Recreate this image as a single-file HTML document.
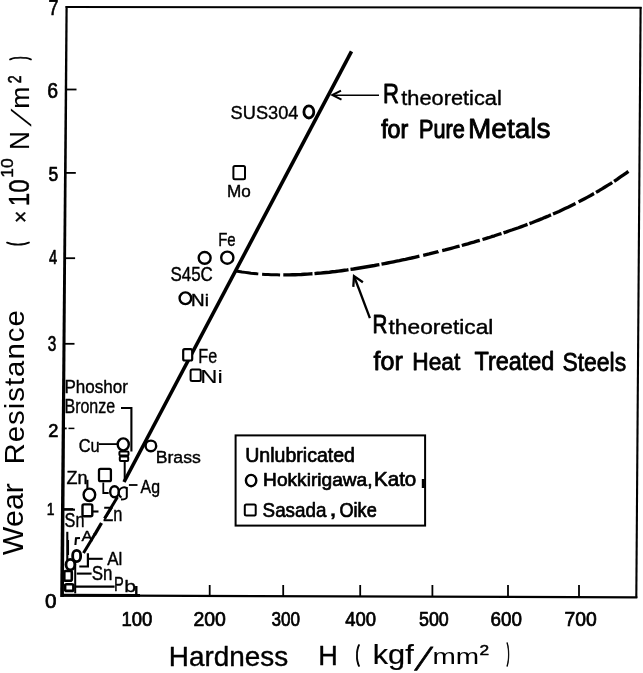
<!DOCTYPE html>
<html><head><meta charset="utf-8"><style>
html,body{margin:0;padding:0;background:#fff;}
svg{display:block;}
text{font-family:"Liberation Sans",sans-serif;fill:#000;stroke:#000;stroke-linejoin:round;}
</style></head><body>
<svg width="643" height="673" viewBox="0 0 643 673">
<rect width="643" height="673" fill="#fff"/>
<polygon points="65.5,6 67.7,6 63.9,597 60.2,597" fill="#000"/>
<polyline points="65.6,7.0 641.6,7.7" fill="none" stroke="#000" stroke-width="2"/>
<polyline points="640.6,7.0 636.3,598.0" fill="none" stroke="#000" stroke-width="2.1"/>
<polyline points="61.0,595.4 637.3,597.4" fill="none" stroke="#000" stroke-width="2.2"/>
<polyline points="66.0,89.5 76.5,89.5" fill="none" stroke="#000" stroke-width="1.8"/>
<polyline points="65.3,172.9 75.8,172.9" fill="none" stroke="#000" stroke-width="1.8"/>
<polyline points="64.6,258.2 75.1,258.2" fill="none" stroke="#000" stroke-width="1.8"/>
<polyline points="64.0,343.8 74.5,343.8" fill="none" stroke="#000" stroke-width="1.8"/>
<polyline points="62.7,509.0 73.2,509.0" fill="none" stroke="#000" stroke-width="1.8"/>
<polyline points="63.0,428.4 66.7,428.4" fill="none" stroke="#000" stroke-width="1.8"/>
<polyline points="68.5,428.4 74.4,428.4" fill="none" stroke="#000" stroke-width="1.5"/>
<polyline points="209.7,596.0 209.7,585.0" fill="none" stroke="#000" stroke-width="1.8"/>
<polyline points="283.2,596.0 283.2,585.0" fill="none" stroke="#000" stroke-width="1.8"/>
<polyline points="360.2,596.0 360.2,585.0" fill="none" stroke="#000" stroke-width="1.8"/>
<polyline points="432.4,596.0 432.4,585.0" fill="none" stroke="#000" stroke-width="1.8"/>
<polyline points="508.0,596.0 508.0,585.0" fill="none" stroke="#000" stroke-width="1.8"/>
<polyline points="579.0,596.0 579.0,585.0" fill="none" stroke="#000" stroke-width="1.8"/>
<text transform="translate(48.55,15.25) scale(0.8046,1)" font-size="22.40" stroke-width="0.7">7</text>
<text transform="translate(47.18,97.92) scale(0.8605,1)" font-size="22.61" stroke-width="0.7">6</text>
<text transform="translate(48.55,181.24) scale(0.8405,1)" font-size="20.79" stroke-width="0.7">5</text>
<text transform="translate(48.92,263.65) scale(0.7353,1)" font-size="19.93" stroke-width="0.7">4</text>
<text transform="translate(47.67,350.54) scale(0.7249,1)" font-size="21.20" stroke-width="0.7">3</text>
<text transform="translate(48.34,437.35) scale(1.0019,1)" font-size="18.21" stroke-width="0.7">2</text>
<text transform="translate(46.71,514.75) scale(0.8015,1)" font-size="17.31" stroke-width="0.7">1</text>
<text transform="translate(44.92,608.15) scale(1.0629,1)" font-size="19.51" stroke-width="0.7">0</text>
<text transform="translate(121.38,626.11) scale(0.8780,1)" font-size="21.13" stroke-width="0.75">100</text>
<text transform="translate(193.40,626.11) scale(0.9210,1)" font-size="21.13" stroke-width="0.75">200</text>
<text transform="translate(271.43,626.11) scale(0.8098,1)" font-size="21.13" stroke-width="0.75">300</text>
<text transform="translate(345.16,626.11) scale(0.8758,1)" font-size="21.13" stroke-width="0.75">400</text>
<text transform="translate(418.96,626.11) scale(0.8468,1)" font-size="21.13" stroke-width="0.75">500</text>
<text transform="translate(490.53,626.11) scale(0.8911,1)" font-size="21.13" stroke-width="0.75">600</text>
<text transform="translate(564.61,626.11) scale(0.9150,1)" font-size="21.13" stroke-width="0.75">700</text>
<text transform="translate(168.80,665.52) scale(0.9888,1)" font-size="28.23" stroke-width="0.4">Hardness</text>
<text transform="translate(318.17,665.30) scale(0.9698,1)" font-size="27.93" stroke-width="0.4">H</text>
<text transform="translate(355.69,660.51) scale(0.5226,1)" font-size="21.66" stroke-width="1.6">(</text>
<text transform="translate(372.72,664.10) scale(1.1440,1)" font-size="26.90" stroke-width="0.2">kgf</text>
<text transform="translate(414.48,669.93) skewX(-22.86)" font-size="31.84" stroke-width="0.9">/</text>
<text transform="translate(432.51,664.10) scale(1.2435,1)" font-size="22.51" stroke-width="0">mm</text>
<text transform="translate(479.48,655.45) scale(1.1318,1)" font-size="15.34" stroke-width="0.5">2</text>
<text transform="translate(506.64,660.87) scale(0.3425,1)" font-size="24.24" stroke-width="1.6">)</text>
<text transform="translate(22.91,555.15) rotate(-90) scale(1.0400,1)" font-size="29.10" stroke-width="0" letter-spacing="0.12">Wear</text>
<text transform="translate(23.72,464.43) rotate(-90) scale(1.0400,1)" font-size="28.30" stroke-width="0" letter-spacing="0.93">Resistance</text>
<text transform="translate(23.68,245.81) rotate(-90) scale(0.4777,1)" font-size="23.70" stroke-width="1.6">(</text>
<text transform="translate(28.42,222.98) rotate(-90) scale(0.9216,1)" font-size="22.92" stroke-width="0.4">×</text>
<text transform="translate(28.91,206.21) rotate(-90) scale(0.8218,1)" font-size="29.40" stroke-width="0.4">10</text>
<text transform="translate(13.03,177.81) rotate(-90) scale(1.0199,1)" font-size="17.10" stroke-width="0.4">10</text>
<text transform="translate(29.35,150.01) rotate(-90) scale(0.9628,1)" font-size="27.20" stroke-width="0.1">N</text>
<text transform="translate(30.72,126.60) rotate(-90) skewX(-26.88)" font-size="27.76" stroke-width="0">/</text>
<text transform="translate(29.35,108.74) rotate(-90) scale(1.0349,1)" font-size="25.67" stroke-width="0.1">m</text>
<text transform="translate(20.70,83.20) rotate(-90) scale(0.7786,1)" font-size="18.06" stroke-width="0.6">2</text>
<text transform="translate(26.28,60.08) rotate(-90) scale(0.4648,1)" font-size="22.73" stroke-width="1.6">)</text>
<polyline points="351.5,51.4 124.0,482.0" fill="none" stroke="#000" stroke-width="3.6"/>
<polyline points="117.5,497.0 104.5,518.5" fill="none" stroke="#000" stroke-width="3.0"/>
<polyline points="101.5,523.0 94.5,535.0" fill="none" stroke="#000" stroke-width="3.4"/>
<polyline points="95.0,534.0 83.5,553.0" fill="none" stroke="#000" stroke-width="3.0"/>
<polyline points="379.0,95.3 333.0,95.3" fill="none" stroke="#000" stroke-width="1.6"/>
<polyline points="341.0,90.6 332.3,95.0 341.5,99.6" fill="none" stroke="#000" stroke-width="2"/>
<polyline points="236.0,271.0 239.0,271.5 242.0,272.0 245.0,272.4 248.0,272.8 251.0,273.2 254.0,273.5 257.0,273.8 258.3,273.9" fill="none" stroke="#000" stroke-width="2.9" stroke-linecap="butt" stroke-linejoin="round"/>
<polyline points="262.1,274.2 265.1,274.4 268.1,274.5 271.1,274.7 274.1,274.8 277.1,274.8 280.1,274.9" fill="none" stroke="#000" stroke-width="3.0" stroke-linecap="butt" stroke-linejoin="round"/>
<polyline points="283.3,274.9 286.3,274.9 289.3,274.9 292.3,274.8 295.3,274.7 298.3,274.6 301.3,274.5 304.3,274.3 307.3,274.1 310.3,273.9 312.5,273.8" fill="none" stroke="#000" stroke-width="3.4" stroke-linecap="butt" stroke-linejoin="round"/>
<polyline points="314.5,273.6 317.5,273.3 320.5,273.1 323.5,272.8 326.5,272.5 329.5,272.2 332.5,271.8 335.5,271.5 338.5,271.1 341.5,270.7 344.5,270.3 347.5,269.9 348.5,269.7" fill="none" stroke="#000" stroke-width="3.4" stroke-linecap="butt" stroke-linejoin="round"/>
<polyline points="350.5,269.4 353.5,269.0 356.5,268.5 359.5,268.0 362.5,267.5 365.5,267.0 368.5,266.5 371.5,266.0 374.5,265.5 377.5,264.9 379.4,264.6" fill="none" stroke="#000" stroke-width="3.4" stroke-linecap="butt" stroke-linejoin="round"/>
<polyline points="381.5,264.2 384.5,263.6 387.5,263.0 390.5,262.4 393.5,261.8 396.5,261.2 399.5,260.6 402.5,259.9 405.5,259.3 408.5,258.6 411.5,258.0 414.5,257.3 417.5,256.6 419.4,256.2" fill="none" stroke="#000" stroke-width="3.4" stroke-linecap="butt" stroke-linejoin="round"/>
<polyline points="423.2,255.3 426.2,254.6 429.2,253.9 432.2,253.1 435.2,252.4 438.2,251.7 438.4,251.6" fill="none" stroke="#000" stroke-width="3.3" stroke-linecap="butt" stroke-linejoin="round"/>
<polyline points="442.2,250.6 445.2,249.9 448.2,249.1 451.2,248.3 454.2,247.5 457.2,246.7 459.6,246.1" fill="none" stroke="#000" stroke-width="3.3" stroke-linecap="butt" stroke-linejoin="round"/>
<polyline points="461.8,245.5 464.8,244.6 467.8,243.8 470.8,242.9 473.8,242.1 476.8,241.2 479.8,240.3" fill="none" stroke="#000" stroke-width="3.3" stroke-linecap="butt" stroke-linejoin="round"/>
<polyline points="482.5,239.5 485.5,238.6 488.5,237.7 491.5,236.7 494.5,235.8 497.5,234.8 500.5,233.8 501.5,233.5" fill="none" stroke="#000" stroke-width="3.3" stroke-linecap="butt" stroke-linejoin="round"/>
<polyline points="503.5,232.9 506.5,231.9 509.5,230.8 512.5,229.8 515.5,228.7 518.5,227.7 521.5,226.6 524.5,225.5 527.5,224.4" fill="none" stroke="#000" stroke-width="3.3" stroke-linecap="butt" stroke-linejoin="round"/>
<polyline points="529.5,223.6 532.5,222.5 535.5,221.3 538.5,220.1 541.5,218.9 544.5,217.6 547.5,216.4 550.5,215.1 551.0,214.9" fill="none" stroke="#000" stroke-width="3.3" stroke-linecap="butt" stroke-linejoin="round"/>
<polyline points="553.0,214.0 556.0,212.7 559.0,211.4 562.0,210.0 565.0,208.6 568.0,207.2 571.0,205.7 574.0,204.2 575.5,203.5" fill="none" stroke="#000" stroke-width="3.3" stroke-linecap="butt" stroke-linejoin="round"/>
<polyline points="578.6,201.9 581.6,200.3 584.6,198.7 587.6,197.1 590.6,195.5 593.6,193.8 594.0,193.6" fill="none" stroke="#000" stroke-width="3.3" stroke-linecap="butt" stroke-linejoin="round"/>
<polyline points="596.0,192.4 599.0,190.7 602.0,188.9 605.0,187.0 608.0,185.2 611.0,183.3 612.2,182.5" fill="none" stroke="#000" stroke-width="3.3" stroke-linecap="butt" stroke-linejoin="round"/>
<polyline points="614.1,181.3 617.1,179.3 620.1,177.2 623.1,175.2 626.1,173.1 628.4,171.4" fill="none" stroke="#000" stroke-width="3.4" stroke-linecap="butt" stroke-linejoin="round"/>
<polyline points="369.9,318.2 354.2,276.5" fill="none" stroke="#000" stroke-width="2.3"/>
<polyline points="362.9,282.2 354.0,276.0 353.3,286.9" fill="none" stroke="#000" stroke-width="2.3"/>
<text transform="translate(230.58,118.71) scale(0.9478,1)" font-size="19.22" stroke-width="0.4">SUS304</text>
<ellipse cx="308.85" cy="111.95" rx="4.95" ry="6.05" fill="none" stroke="#000" stroke-width="2.8"/>
<text transform="translate(382.93,102.55) scale(0.7876,1)" font-size="28.07" stroke-width="0.9">R</text>
<text transform="translate(401.27,104.89) scale(1.0610,1)" font-size="20.54" stroke-width="0.4">theoretical</text>
<text transform="translate(381.16,138.00) scale(0.8800,1)" font-size="26.37" stroke-width="1.1">for</text>
<text transform="translate(419.03,138.00) scale(0.8200,1)" font-size="26.40" stroke-width="1.1">Pure</text>
<text transform="translate(468.05,138.30) scale(1.0400,1)" font-size="26.90" stroke-width="0.8">Metals</text>
<rect x="233.4" y="166.1" width="11.6" height="13.2" rx="1.5" fill="none" stroke="#000" stroke-width="2"/>
<text transform="translate(226.98,197.43) scale(1.0227,1)" font-size="16.77" stroke-width="0.4">Mo</text>
<text transform="translate(218.16,246.01) scale(0.8048,1)" font-size="18.64" stroke-width="0.4">Fe</text>
<ellipse cx="227.30" cy="257.70" rx="6.10" ry="6.10" fill="none" stroke="#000" stroke-width="2.4"/>
<ellipse cx="204.65" cy="257.90" rx="5.95" ry="5.90" fill="none" stroke="#000" stroke-width="2.4"/>
<text transform="translate(170.44,280.81) scale(0.8771,1)" font-size="19.36" stroke-width="0.4">S45C</text>
<ellipse cx="185.40" cy="298.25" rx="5.80" ry="5.85" fill="none" stroke="#000" stroke-width="2.4"/>
<text transform="translate(191.04,306.40) scale(1.1792,1)" font-size="16.00" stroke-width="0.4">Ni</text>
<rect x="183.2" y="349.2" width="9.0" height="11.3" rx="1.5" fill="#fff" stroke="#000" stroke-width="2.2"/>
<text transform="translate(198.27,363.49) scale(0.7771,1)" font-size="20.79" stroke-width="0.4">Fe</text>
<rect x="190.6" y="369.6" width="10.1" height="11.5" rx="1.5" fill="none" stroke="#000" stroke-width="2"/>
<text transform="translate(200.28,383.45) scale(1.2931,1)" font-size="18.48" stroke-width="0.1">Ni</text>
<text transform="translate(372.45,332.65) scale(0.8043,1)" font-size="25.60" stroke-width="0.9">R</text>
<text transform="translate(388.56,334.40) scale(1.1286,1)" font-size="20.14" stroke-width="0.4">theoretical</text>
<text transform="translate(373.42,369.70) scale(0.9981,1)" font-size="25.19" stroke-width="0.8">for</text>
<text transform="translate(412.22,369.90) scale(0.9252,1)" font-size="24.58" stroke-width="0.8">Heat</text>
<text transform="translate(474.57,370.30) scale(0.9379,1)" font-size="24.97" stroke-width="0.8">Treated</text>
<text transform="translate(562.47,370.80) scale(0.8794,1)" font-size="26.07" stroke-width="0.8">Steels</text>
<rect x="235.6" y="435.4" width="189.5" height="90.2" fill="none" stroke="#000" stroke-width="2"/>
<polyline points="423.3,479.0 423.3,488.0" fill="none" stroke="#000" stroke-width="3"/>
<text transform="translate(245.23,462.05) scale(0.9776,1)" font-size="20.00" stroke-width="0.7">Unlubricated</text>
<ellipse cx="251.10" cy="480.55" rx="5.20" ry="5.65" fill="none" stroke="#000" stroke-width="2.4"/>
<text transform="translate(263.07,485.60) scale(1.0168,1)" font-size="18.83" stroke-width="0.7">Hokkirigawa,</text>
<text transform="translate(373.95,485.60) scale(1.0373,1)" font-size="19.85" stroke-width="0.7">Kato</text>
<rect x="244.8" y="504.6" width="10.9" height="10.9" rx="1.5" fill="none" stroke="#000" stroke-width="2"/>
<text transform="translate(262.60,516.64) scale(0.8982,1)" font-size="20.95" stroke-width="0.7">Sasada</text>
<text transform="translate(328.68,516.44) scale(1.4462,1)" font-size="21.28" stroke-width="0.3">,</text>
<text transform="translate(339.39,516.65) scale(0.9209,1)" font-size="19.73" stroke-width="0.7">Oike</text>
<text transform="translate(64.39,392.62) scale(0.9415,1)" font-size="18.10" stroke-width="0.4">Phoshor</text>
<text transform="translate(64.48,413.10) scale(0.8032,1)" font-size="19.93" stroke-width="0.4">Bronze</text>
<polyline points="121.0,408.0 131.4,408.0 131.4,451.6" fill="none" stroke="#000" stroke-width="2.1"/>
<text transform="translate(78.68,451.51) scale(0.8547,1)" font-size="19.22" stroke-width="0.4">Cu</text>
<polyline points="98.8,444.1 117.4,444.1" fill="none" stroke="#000" stroke-width="1.8"/>
<ellipse cx="123.25" cy="444.40" rx="5.55" ry="6.00" fill="none" stroke="#000" stroke-width="2.4"/>
<rect x="119.4" y="451.5" width="9.1" height="4.0" rx="1" fill="none" stroke="#000" stroke-width="2"/>
<rect x="119.8" y="456.5" width="8.4" height="4.5" rx="1" fill="none" stroke="#000" stroke-width="2"/>
<polyline points="124.7,462.0 124.7,481.0" fill="none" stroke="#000" stroke-width="2"/>
<ellipse cx="150.90" cy="445.90" rx="5.30" ry="5.30" fill="none" stroke="#000" stroke-width="2.4"/>
<text transform="translate(155.64,462.93) scale(1.0193,1)" font-size="17.35" stroke-width="0.4">Brass</text>
<text transform="translate(66.41,483.90) scale(1.0001,1)" font-size="18.04" stroke-width="0.4">Zn</text>
<polyline points="87.4,479.8 87.4,488.4" fill="none" stroke="#000" stroke-width="2.1"/>
<ellipse cx="89.40" cy="494.80" rx="5.80" ry="6.20" fill="none" stroke="#000" stroke-width="2.4"/>
<rect x="82.5" y="504.4" width="9.8" height="11.9" rx="1.5" fill="none" stroke="#000" stroke-width="2.4"/>
<polyline points="92.5,511.5 98.5,511.5" fill="none" stroke="#000" stroke-width="2.1"/>
<text transform="translate(103.27,520.70) scale(0.7964,1)" font-size="20.65" stroke-width="0.4">Zn</text>
<rect x="99.0" y="468.9" width="11.9" height="12.3" rx="1.5" fill="none" stroke="#000" stroke-width="2.3"/>
<polyline points="103.3,482.6 103.3,493.0 108.7,493.0" fill="none" stroke="#000" stroke-width="1.8"/>
<ellipse cx="114.50" cy="491.75" rx="4.30" ry="5.55" fill="none" stroke="#000" stroke-width="2.4"/>
<path d="M126.5,488 A5.3,5.3 0 1 0 121.5,497.5 M126.8,487 L126.8,497 Q126.5,499.5 121,499.5" fill="none" stroke="#000" stroke-width="2"/>
<polyline points="128.9,485.0 137.5,485.0" fill="none" stroke="#000" stroke-width="1.8"/>
<text transform="translate(140.56,493.04) scale(0.9005,1)" font-size="17.65" stroke-width="0.4">Ag</text>
<text transform="translate(64.57,527.01) scale(0.8383,1)" font-size="19.36" stroke-width="0.4">Sn</text>
<polyline points="64.0,509.7 75.0,509.7" fill="none" stroke="#000" stroke-width="2.1"/>
<text transform="translate(81.56,541.40) scale(1.0872,1)" font-size="15.27" stroke-width="0.4">A</text>
<polyline points="75.4,545.0 76.0,538.3 80.0,538.0" fill="none" stroke="#000" stroke-width="2.1"/>
<polyline points="67.3,531.8 67.3,560.0" fill="none" stroke="#000" stroke-width="2.1"/>
<rect x="72.7" y="550.4" width="7.9" height="11.2" rx="4.5" fill="none" stroke="#000" stroke-width="2.8"/>
<rect x="66.0" y="559.4" width="8.8" height="10.4" rx="5" fill="none" stroke="#000" stroke-width="2.8"/>
<rect x="64.3" y="571.0" width="7.5" height="9.8" rx="1.5" fill="none" stroke="#000" stroke-width="2.6"/>
<rect x="65.1" y="584.2" width="8.3" height="6.7" rx="1.5" fill="none" stroke="#000" stroke-width="2.6"/>
<polyline points="79.3,566.5 87.9,566.5 87.9,553.3" fill="none" stroke="#000" stroke-width="2.2"/>
<polyline points="87.9,558.8 102.7,558.8" fill="none" stroke="#000" stroke-width="2.1"/>
<text transform="translate(107.26,565.30) scale(0.9677,1)" font-size="17.52" stroke-width="0.4">Al</text>
<polyline points="76.7,573.6 91.6,573.6" fill="none" stroke="#000" stroke-width="2.1"/>
<text transform="translate(91.64,580.00) scale(0.8628,1)" font-size="19.65" stroke-width="0.4">Sn</text>
<polyline points="75.2,586.6 114.6,586.6" fill="none" stroke="#000" stroke-width="2.1"/>
<polyline points="75.2,561.0 75.2,593.4" fill="none" stroke="#000" stroke-width="2"/>
<text transform="translate(114.09,590.80) scale(0.6993,1)" font-size="20.95" stroke-width="0.4">P</text>
<text transform="translate(124.36,592.18) scale(1.2346,1)" font-size="17.28" stroke-width="0.3">b</text>
<polyline points="61.0,595.3 140.0,595.6" fill="none" stroke="#000" stroke-width="3"/>
<polyline points="136.3,586.0 136.3,595.0" fill="none" stroke="#000" stroke-width="2.4"/>
<polyline points="68.0,540.0 68.0,555.0" fill="none" stroke="#000" stroke-width="2.1"/>
</svg>
</body></html>
